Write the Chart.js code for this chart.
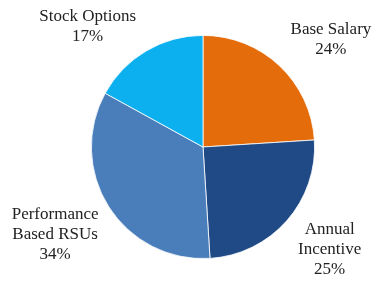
<!DOCTYPE html>
<html>
<head>
<meta charset="utf-8">
<script src="https://cdn.jsdelivr.net/npm/chart.js@4/dist/chart.umd.min.js"></script>
<style>
html,body{margin:0;padding:0;background:#fff;}
#c{display:block;}
</style>
</head>
<body>
<canvas id="c" width="375" height="282"></canvas>
<script>
const categories = [["Base Salary"], ["Annual", "Incentive"], ["Performance", "Based RSUs"], ["Stock Options"]];
const values = [24, 25, 34, 17];
const colors = ["#E46C0A", "#1F4A85", "#4A7EBB", "#0DB0EE"];

// label placement relative to each slice: angle shift (deg) and distance (px) from pie centre
const labelShift = [6.8, -2.4, 1.7, -13.1];
const labelDist = [167, 163, 172, 167];

const labelPlugin = {
  id: 'sliceLabels',
  afterDatasetsDraw(chart) {
    const ctx = chart.ctx;
    const meta = chart.getDatasetMeta(0);
    ctx.save();
    ctx.font = '17px "Liberation Serif", "Times New Roman", serif';
    ctx.fillStyle = '#222';
    ctx.textAlign = 'center';
    ctx.textBaseline = 'middle';
    const lh = 20;
    meta.data.forEach((arc, i) => {
      const p = arc.getProps(['x', 'y', 'startAngle', 'endAngle'], true);
      const mid = (p.startAngle + p.endAngle) / 2 + labelShift[i] * Math.PI / 180;
      const cx = p.x + Math.cos(mid) * labelDist[i];
      const cy = p.y + Math.sin(mid) * labelDist[i];
      const lines = categories[i].concat([values[i] + '%']);
      const y0 = cy - (lines.length - 1) * lh / 2;
      lines.forEach((t, k) => ctx.fillText(t, cx, y0 + k * lh));
    });
    ctx.restore();
  }
};

new Chart(document.getElementById('c'), {
  type: 'pie',
  data: {
    labels: categories.map(c => c.join(' ')),
    datasets: [{
      data: values,
      backgroundColor: colors,
      borderColor: '#ffffff',
      borderWidth: 0.8
    }]
  },
  options: {
    responsive: false,
    animation: false,
    layout: { padding: { left: 91, right: 60, top: 35, bottom: 23 } },
    plugins: {
      legend: { display: false },
      tooltip: { enabled: false }
    }
  },
  plugins: [labelPlugin]
});
</script>
</body>
</html>
